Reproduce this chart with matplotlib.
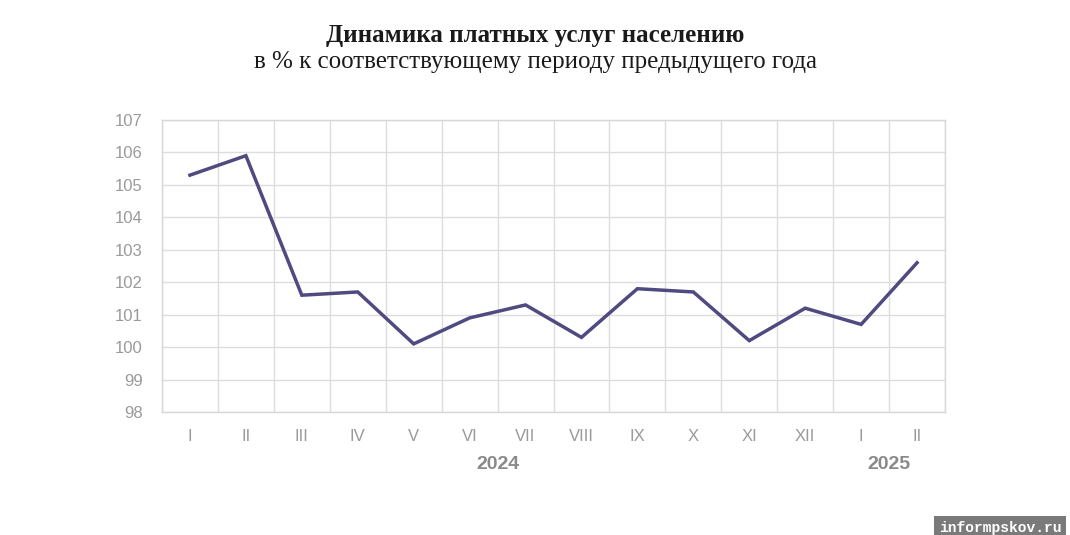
import numpy as np
import matplotlib.pyplot as plt

# data
months = ["I", "II", "III", "IV", "V", "VI", "VII", "VIII", "IX", "X", "XI", "XII", "I", "II"]
values = [105.3, 105.9, 101.6, 101.7, 100.1, 100.9, 101.3, 100.3, 101.8, 101.7, 100.2, 101.2, 100.7, 102.6]
years = ["2024", "2025"]
year_centers = [5.5, 12.5]
yticks = [98, 99, 100, 101, 102, 103, 104, 105, 106, 107]

fig = plt.figure(figsize=(10.7, 5.35), dpi=100)
ax = fig.add_axes([0.1514, 0.2299, 0.7318, 0.5458])

x = np.arange(len(months))
ax.plot(x, values, color="#4f4a80", linewidth=2.5, solid_joinstyle="miter")

ax.set_xlim(-0.5, len(months) - 0.5)
ax.set_ylim(98, 107)
ax.set_yticks(yticks)
ax.set_xticks(x)
ax.set_xticklabels(months)
ax.set_xticks(np.arange(-0.5, len(months)), minor=True)

ax.grid(False)
ax.grid(True, which="minor", axis="x", color="#dddddd", linewidth=1)
ax.grid(True, which="major", axis="y", color="#dddddd", linewidth=1)
ax.set_axisbelow(True)

for s in ax.spines.values():
    s.set_color("#d8d8d8")
    s.set_linewidth(1)

ax.tick_params(which="both", length=0)
ax.tick_params(axis="y", pad=14, labelsize=12, labelcolor="#9a9a9a")
ax.tick_params(axis="x", pad=12, labelsize=12, labelcolor="#9a9a9a")
for lab in ax.get_xticklabels() + ax.get_yticklabels():
    lab.set_family("Liberation Sans")

for yr, c in zip(years, year_centers):
    ax.text(c, -0.18, yr, transform=ax.get_xaxis_transform(), ha="center", va="center",
            fontsize=14, fontweight="bold", color="#8a8a8a", family="Liberation Sans")

fig.text(0.5, 0.933, "Динамика платных услуг населению", ha="center", va="center",
         fontsize=18, fontweight="bold", family="Liberation Serif", color="#1a1a1a")
fig.text(0.5, 0.884, "в % к соответствующему периоду предыдущего года", ha="center", va="center",
         fontsize=18, family="Liberation Serif", color="#1a1a1a")

# watermark
fig.text(0.9345, 0.0, "informpskov.ru", ha="center", va="bottom", fontsize=10.5,
         family="Liberation Mono", fontweight="bold", color="white",
         bbox=dict(boxstyle="square,pad=0.35", facecolor="#7a7a7a", edgecolor="none"))

fig.savefig("out.png", dpi=100, facecolor="white")
